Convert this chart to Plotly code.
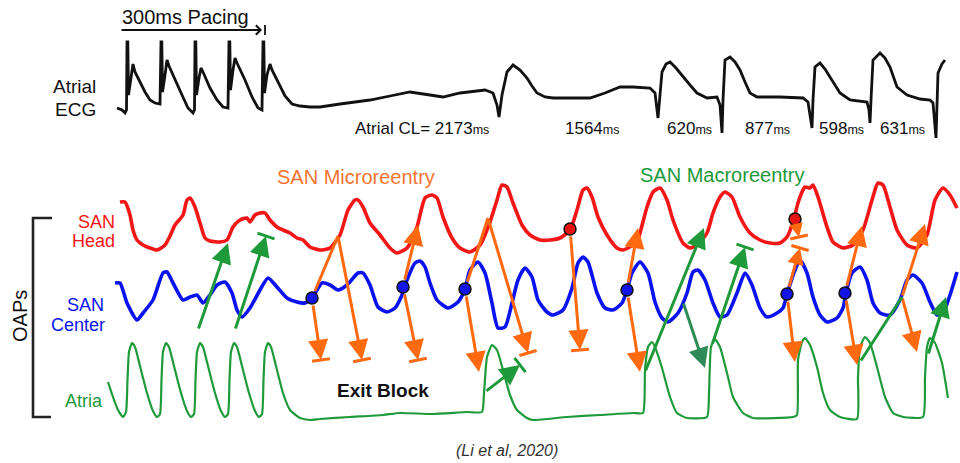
import math
import plotly.graph_objects as go

# ---------------- data (pixel units) ----------------
ecg_x = [117,122,125,126.5,127,127.8,128.5,130,132,133,135,140,145,150,155,160,
         161,161.8,162.5,165,167,169,175,182,188,193,194.5,
         195,195.8,196.5,199,201,203,210,217,223,228,
         229,229.8,230.5,233,235,237,245,252,258,262,
         263,263.8,264.5,267,270,272,278,285,292,300,310,320,340,370,390,410,430,443,460,475,485,493,497,499,
         502,507,513,520,527,532,537,545,553,570,590,605,620,633,650,655,658,660,662,666,670,676,683,690,697,
         707,717,720,722,723,725,730,735,740,745,750,757,780,803,808,812,813,815,820,825,830,835,840,850,867,
         869,870,871,873,880,885,890,894,897,907,920,930,933,936,937,938,942,945]
ecg_y = [108,110,113,110,42,42,95,85,68,64,72,82,92,100,103,104,
         42,42,92,75,60,66,80,95,108,113,110,
         42,42,95,78,68,72,88,100,107,108,
         42,42,90,70,58,63,80,97,108,110,
         42,42,93,75,64,70,82,96,104,106,107,107,104,100,96,92,95,97,93,91,90,93,105,117,
         95,72,65,70,78,86,93,97,98,98,98,93,87,87,88,93,118,95,72,64,62,68,77,85,93,
         98,97,105,133,100,60,57,62,70,82,93,97,97,98,102,128,100,67,63,69,77,86,93,100,102,
         110,123,100,60,53,58,67,78,87,95,99,100,103,138,110,73,64,60]

head_x = [120,125,130,133,137,143,150,157,165,170,175,183,187,190,195,200,205,210,220,227,233,240,247,250,255,260,265,
          270,277,283,290,297,303,310,320,330,340,348,355,358,363,370,380,390,397,407,417,425,432,437,443,452,460,470,
          480,490,497,502,507,513,522,530,540,550,560,570,577,583,587,592,598,607,617,623,633,637,647,653,660,667,673,
          683,690,697,707,713,720,725,732,740,750,760,770,780,787,793,798,802,805,810,813,818,827,833,843,853,863,872,
          878,883,890,897,907,917,927,935,943,950,957]
head_y = [202,202,215,230,240,245,248,250,245,236,225,215,200,198,207,223,238,241,242,240,227,220,218,222,215,213,213,
          220,227,230,233,238,240,247,250,248,235,210,200,200,207,223,235,248,253,248,227,198,195,198,217,238,248,252,
          245,222,200,185,187,203,225,235,240,240,238,230,210,190,188,197,217,235,248,250,245,242,207,192,188,200,220,
          243,248,245,233,213,197,192,197,217,233,240,243,243,237,222,203,192,187,188,185,197,227,242,248,245,230,200,
          183,185,207,230,245,248,235,200,188,195,208]

center_x = [115,120,127,137,143,153,163,167,173,183,190,197,203,210,217,225,232,237,242,250,260,268,277,287,297,305,312,
            322,330,338,347,358,363,370,378,387,395,402,407,415,420,425,430,437,448,458,465,470,478,485,492,498,505,512,
            518,525,532,538,547,553,563,572,578,583,588,597,605,613,622,627,632,640,648,655,662,668,678,687,693,698,705,
            713,720,727,737,745,752,760,767,777,783,787,795,800,807,813,820,827,837,843,846,852,860,867,873,880,890,900,
            907,913,922,930,937,943,950,957]
center_y = [283,283,303,320,313,300,273,272,283,300,297,295,303,295,285,282,293,310,317,308,290,278,287,298,302,303,298,
            283,285,290,285,273,273,285,307,312,308,295,280,263,261,267,283,300,308,302,289,270,262,273,303,328,327,303,
            280,268,277,300,312,315,310,288,263,257,262,293,308,310,303,290,273,262,273,302,318,322,313,293,272,270,280,
            303,317,315,293,273,285,308,317,313,308,294,270,260,273,297,315,322,318,308,293,273,267,280,303,313,315,300,
            280,275,283,302,315,313,295,272]

atria_x = [108,113,118,123,126,127.5,129,132,135,140,147,153,157,160,161.5,163,166,169,174,181,187,191,194,195.5,197,200,
           203,208,215,221,225,228,229.5,231,234,237,242,249,255,259,262,263.5,265,268,271,276,283,290,300,310,320,350,
           383,400,433,467,482,484,487,492,497,503,510,517,527,533,567,600,633,643,645,648,652,655,662,670,677,687,707,
           709,711,715,720,727,733,743,753,793,797,798,802,805,810,817,823,830,840,857,858,860,865,870,877,885,893,903,
           923,925,927,930,935,942,948]
atria_y = [382,397,410,417,412,380,352,343,347,366,393,411,417,414,380,352,343,347,366,393,411,417,414,380,352,343,
           347,366,393,411,417,414,380,352,343,347,366,393,411,417,414,380,352,343,347,366,393,410,418,420,419,417,
           415,413,414,412,412,393,357,345,350,370,395,410,418,420,417,415,413,413,370,347,342,347,368,397,413,418,417,
           393,347,339,347,373,397,413,418,417,415,360,342,338,345,367,393,410,417,419,377,347,337,343,367,397,413,417,
           417,377,347,338,343,363,398]

blue_dot_x = [312,403,465,627,787,845]
blue_dot_y = [298,287,289,290,294,293]
red_dot_x = [570,795]
red_dot_y = [229,219]

# arrows: (x_tail, y_tail, x_tip, y_tip, kind, colour-key, head size)
arrows = [
    (312,298,338,236,'line','o',1.35), (338,236,362,360,'block','o',1.35), (312,298,321,360,'block','o',1.35),
    (403,287,418,225,'head','o',1.35), (403,287,418,360,'block','o',1.35),
    (465,289,488,218,'line','o',1.35), (488,218,528,353,'block','o',1.35), (465,289,479,372,'head','o',1.35),
    (570,229,580,350,'block','o',1.35),
    (627,290,638,228,'head','o',1.35), (627,290,640,372,'head','o',1.35),
    (787,294,800,248,'block','o',1.1), (795,219,799,237,'block','o',0.9),
    (787,294,795,362,'head','o',1.35),
    (845,293,862,226,'head','o',1.35), (845,293,857,365,'head','o',1.35),
    (902,297,925,224,'head','o',1.35), (902,297,917,352,'head','o',1.35),
    (198,330,228,243,'head','g',1.35), (235,330,266,236,'block','g',1.35),
    (485,392,520,365,'block','g',1.35),
    (645,372,704,228,'head','g',1.35), (683,302,705,368,'head','d',1.35),
    (712,345,745,247,'block','g',1.35), (860,362,902,297,'line','g',1.35),
    (928,355,946,297,'head','g',1.35),
]

cl_labels = ['Atrial CL= 2173', '1564', '620', '877', '598', '631']
cl_label_x = [353, 563, 665, 743, 817, 878]

# ---------------- figure ----------------
ORANGE = '#FF6A10'
GREEN = '#1F9A3A'
DGREEN = '#2E8B57'
RED = '#F21616'
BLUE = '#0A12F0'
colmap = {'o': ORANGE, 'g': GREEN, 'd': DGREEN}
FONT = 'Arial, Liberation Sans, sans-serif'

fig = go.Figure()
fig.add_trace(go.Scatter(x=ecg_x, y=ecg_y, mode='lines', line=dict(color='#111111', width=2.8)))
fig.add_trace(go.Scatter(x=head_x, y=head_y, mode='lines',
                         line=dict(color=RED, width=3.6, shape='spline', smoothing=0.6)))
fig.add_trace(go.Scatter(x=center_x, y=center_y, mode='lines',
                         line=dict(color=BLUE, width=3.6, shape='spline', smoothing=0.6)))
fig.add_trace(go.Scatter(x=atria_x, y=atria_y, mode='lines',
                         line=dict(color=GREEN, width=2.2, shape='spline', smoothing=0.5)))

dot_set = set(zip(blue_dot_x, blue_dot_y)) | set(zip(red_dot_x, red_dot_y))
for (x0, y0, x1, y1, kind, ck, hs) in arrows:
    c = colmap[ck]
    fig.add_annotation(x=x1, y=y1, ax=x0, ay=y0, xref='x', yref='y', axref='x', ayref='y',
                       text='', showarrow=True, arrowhead=0 if kind == 'line' else 2,
                       arrowsize=hs, arrowwidth=3, arrowcolor=c,
                       startstandoff=6 if (x0, y0) in dot_set else 0)
    if kind == 'block':
        dx, dy = x1 - x0, y1 - y0
        L = math.hypot(dx, dy)
        px, py = -dy / L, dx / L
        h = 9
        fig.add_shape(type='line', x0=x1 + px * h, y0=y1 + py * h, x1=x1 - px * h, y1=y1 - py * h,
                      line=dict(color=c, width=3))

fig.add_trace(go.Scatter(x=blue_dot_x, y=blue_dot_y, mode='markers',
                         marker=dict(size=12, color='#1414E6', line=dict(color='#111111', width=1.5))))
fig.add_trace(go.Scatter(x=red_dot_x, y=red_dot_y, mode='markers',
                         marker=dict(size=12, color='#E81414', line=dict(color='#111111', width=1.5))))

# pacing arrow
fig.add_annotation(x=262, y=30, ax=120, ay=30, xref='x', yref='y', axref='x', ayref='y', text='',
                   showarrow=True, arrowhead=4, arrowsize=1, arrowwidth=1.8, arrowcolor='#111111')
fig.add_shape(type='line', x0=265, y0=25, x1=265, y1=35, line=dict(color='#111111', width=1.8))

# OAPs bracket
fig.add_shape(type='path', path='M 52 218 L 33 218 L 33 417 L 51 417',
              line=dict(color='#222222', width=2.6))


def txt(s, x, y, size, color='#111111', xanchor='left', angle=0):
    fig.add_annotation(x=x, y=y, xref='x', yref='y', text=s, showarrow=False, xanchor=xanchor,
                       yanchor='middle', textangle=angle, align=xanchor if xanchor != 'center' else 'center',
                       font=dict(family=FONT, size=size, color=color))


txt('300ms Pacing', 120, 17, 20)
txt('Atrial', 98, 86, 19, xanchor='right')
txt('ECG', 98, 109, 19, xanchor='right')
for lab, lx in zip(cl_labels, cl_label_x):
    txt(lab + '<span style="font-size:12.5px">ms</span>', lx, 128, 17)

txt('SAN Microreentry', 275, 177, 20, '#F5742F')
txt('SAN Macroreentry', 638, 175, 20, '#1E9A3C')
txt('SAN', 117, 222, 18, RED, 'right')
txt('Head', 117, 241, 18, RED, 'right')
txt('SAN', 106, 305, 18, BLUE, 'right')
txt('Center', 107, 325, 18, BLUE, 'right')
txt('Atria', 105, 401, 18, '#1E9A3C', 'right')
txt('OAPs', 20, 316, 20, angle=-90, xanchor='center')
txt('<b>Exit Block</b>', 335, 390, 19)
txt('<i>(Li et al, 2020)</i>', 507, 450, 16, '#333333', 'center')

fig.update_layout(
    width=960, height=463, margin=dict(l=0, r=0, t=0, b=0),
    paper_bgcolor='white', plot_bgcolor='white', showlegend=False,
    xaxis=dict(range=[0, 960], visible=False, fixedrange=True),
    yaxis=dict(range=[463, 0], visible=False, fixedrange=True),
)
fig.write_html('out.html')
